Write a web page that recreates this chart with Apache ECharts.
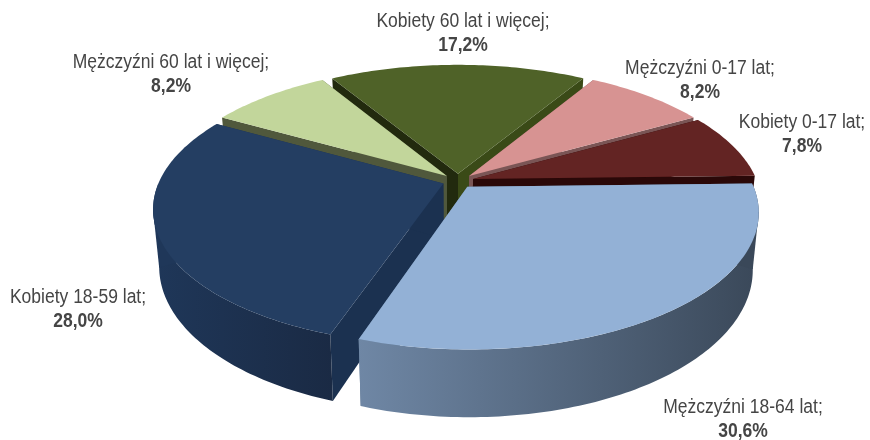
<!DOCTYPE html>
<html>
<head>
    <meta charset="utf-8">
    <title>Wykres kołowy</title>
    <style>
        html, body { margin: 0; background: #fff; }
        #chart { width: 870px; height: 440px; }
    </style>
    <script src="https://cdn.jsdelivr.net/npm/echarts@6/dist/echarts.min.js"></script>
</head>
<body>
<div id="chart"></div>
<script type="text/javascript">
    // data, clockwise from the right edge
    var categories = ['Mężczyźni 18-64 lat', 'Kobiety 18-59 lat', 'Mężczyźni 60 lat i więcej', 'Kobiety 60 lat i więcej', 'Mężczyźni 0-17 lat', 'Kobiety 0-17 lat'];
    var shares = [30.6, 28.0, 8.2, 17.2, 8.2, 7.8];

    // colours per slice
    var topColors = ['#93b1d6', '#243e62', '#c2d69b', '#4f6228', '#d79392', '#632423'];
    var startFaceColors = ['#5d7590', '#1b3150', '#50583c', '#222a0e', '#7a5555', '#2a0808'];
    var endFaceColors = ['#5d7590', '#1b3150', '#50583c', '#3a4a17', '#7a5555', '#2a0808'];
    var wallColors = [['#6f87a5', '#3a4859'], ['#1f3759', '#1a2a44'], ['#50583c', '#50583c'], ['#3a4a17', '#3a4a17'], ['#7a5555', '#7a5555'], ['#3a1212', '#3a1212']];

    // label centres
    var labelX = [743, 78, 171, 463, 700, 802];
    var labelY = [407, 297, 62, 21, 68, 122];
    var labelGap = 24;

    // pie geometry
    var cx = 458, cy = 181, rx = 284, ry = 131;
    var persp = 0.18, depth = 55, bottomScale = 0.98, explode = 0.055, startAngle = -1.5;

    var total = shares.reduce(function (a, b) { return a + b; }, 0);

    function project(u, v, low) {
        var p = 1 / (1 - persp * v);
        var x = rx * u * p;
        var y = ry * v * p;
        if (low) {
            x = x * bottomScale;
            y = y + depth * p;
        }
        return [cx + x, cy + y];
    }

    function rad(deg) { return deg * Math.PI / 180; }

    function labelText(text, x, y, weight) {
        return { type: 'text', z2: 5000, x: x, y: y, scaleX: 0.875, style: { text: text, x: 0, y: 0,
            align: 'center', verticalAlign: 'middle', fill: '#454545', font: weight + ' 20px "Liberation Sans"' } };
    }

    function renderSlice(params, api) {
        var i = params.dataIndex;
        var before = 0;
        for (var k = 0; k < i; k++) before += shares[k];
        var a0 = startAngle + before / total * 360;
        var a1 = a0 + api.value(0) / total * 360;
        var mid = rad((a0 + a1) / 2);
        var du = Math.cos(mid) * explode, dv = Math.sin(mid) * explode;
        var order = Math.round((Math.sin(mid) + 1) * 100) * 10;

        function pt(deg, low) {
            return project(Math.cos(rad(deg)) + du, Math.sin(rad(deg)) + dv, low);
        }

        var tip = project(du, dv, false), tipLow = project(du, dv, true);
        var topPts = [tip], children = [];
        for (var a = a0; a < a1; a += 1) topPts.push(pt(a, false));
        topPts.push(pt(a1, false));

        // cut faces
        children.push({ type: 'polygon', z2: order, shape: { points: [tip, pt(a0, false), pt(a0, true), tipLow] },
            style: { fill: startFaceColors[i] } });
        children.push({ type: 'polygon', z2: order, shape: { points: [tip, pt(a1, false), pt(a1, true), tipLow] },
            style: { fill: endFaceColors[i] } });

        // outer wall, only the part turned to the viewer
        var w0 = Math.max(a0, 0), w1 = Math.min(a1, 180);
        if (w1 > w0) {
            var upper = [], lower = [];
            for (var w = w0; w < w1; w += 1) {
                upper.push(pt(w, false));
                lower.unshift(pt(w, true));
            }
            upper.push(pt(w1, false));
            lower.unshift(pt(w1, true));
            children.push({ type: 'polygon', z2: order + 1, shape: { points: upper.concat(lower) },
                style: { fill: new echarts.graphic.LinearGradient(0, 0, 1, 0, [
                    { offset: 0, color: wallColors[i][0] },
                    { offset: 1, color: wallColors[i][1] }
                ]) } });

            // straight silhouette edge from the widest point of the top to the widest point of the bottom
            var side = Math.cos(mid) > 0 ? 1 : -1;
            var topExt = null, lowExt = null;
            for (var e = a0; e <= a1; e += 1) {
                var t = pt(e, false), l = pt(e, true);
                if (!topExt || side * t[0] > side * topExt[0]) topExt = t;
                if (!lowExt || side * l[0] > side * lowExt[0]) lowExt = l;
            }
            children.push({ type: 'polygon', z2: order + 1, shape: { points: [topExt, lowExt, tip] },
                style: { fill: side > 0 ? wallColors[i][1] : wallColors[i][0] } });
        }

        children.push({ type: 'polygon', z2: order + 2, shape: { points: topPts }, style: { fill: topColors[i] } });

        // labels
        var pct = api.value(0).toFixed(1).replace('.', ',') + '%';
        children.push(labelText(categories[i] + ';', labelX[i], labelY[i], 'normal'));
        children.push(labelText(pct, labelX[i], labelY[i] + labelGap, 'bold'));

        return { type: 'group', children: children };
    }

    var myChart = echarts.init(document.getElementById('chart'));
    myChart.setOption({
        animation: false,
        series: [{
            type: 'custom',
            coordinateSystem: 'none',
            renderItem: renderSlice,
            data: shares.map(function (v) { return [v]; })
        }]
    });
</script>
</body>
</html>
